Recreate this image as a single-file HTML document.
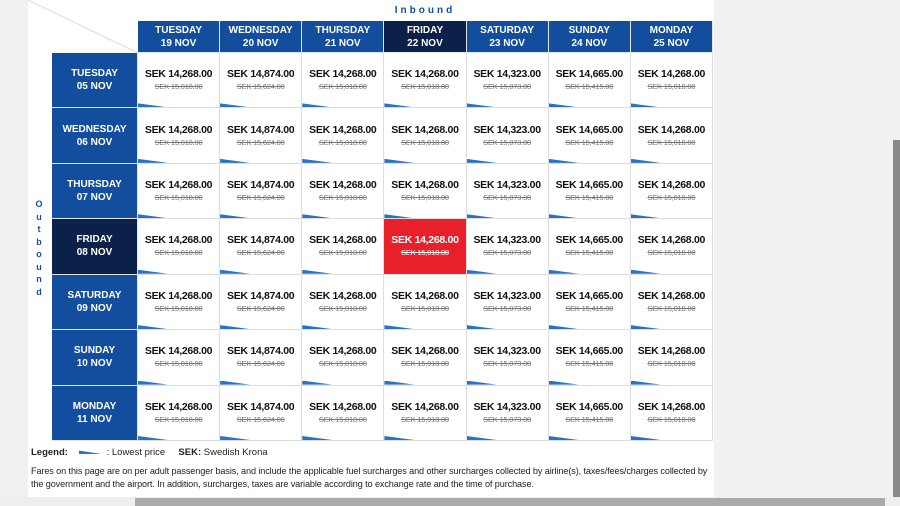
<!DOCTYPE html>
<html><head><meta charset="utf-8"><style>
*{margin:0;padding:0;box-sizing:border-box}
body{width:900px;height:506px;background:#f1f1f1;font-family:"Liberation Sans",Arial,sans-serif;position:relative;overflow:hidden}
.panel{position:absolute;left:28px;top:0;width:686px;height:497px;background:#fff}
.c{position:absolute;text-align:center}
.h{background:#134e9e;color:#fff;font-weight:bold;font-size:10px;line-height:13px;display:flex;align-items:center;justify-content:center;flex-direction:column;border-right:1px solid #dfe6ef;border-bottom:1px solid #dfe6ef}
.dk{background:#0b2149}
.cell{background:#fff;border-right:1px solid #ddd;border-bottom:1px solid #ddd;display:flex;flex-direction:column;align-items:center;justify-content:center}
.p{font-size:10.5px;font-weight:bold;color:#111;line-height:14px;letter-spacing:-0.3px}
.o{font-size:7.5px;color:#777;text-decoration:line-through;line-height:12px;letter-spacing:-0.2px}
.w{position:absolute;left:0;bottom:0;width:30px;height:4px;background:#2a72c6;clip-path:polygon(0 0,100% 100%,0 100%)}
.red{background:#e8202a}
.red .p,.red .o{color:#fff}
</style></head><body>
<div class="panel"></div>
<svg style="position:absolute;left:0;top:0" width="140" height="60"><line x1="28" y1="0" x2="138" y2="53" stroke="#ddd" stroke-width="1"/></svg>
<div class="c" style="left:384px;top:5px;width:82px;font-size:10px;font-weight:bold;color:#134e9e;letter-spacing:3px">Inbound</div>
<div class="c" style="left:32px;top:198px;width:14px;font-size:9px;font-weight:bold;color:#134e9e;line-height:12.5px">O<br>u<br>t<br>b<br>o<br>u<br>n<br>d</div>
<div id="g"></div>
<div style="position:absolute;left:31px;top:447px;font-size:9.5px;color:#222"><b>Legend:</b> <span style="display:inline-block;width:26px;height:4px;background:#2a72c6;clip-path:polygon(0 0,100% 100%,0 100%);vertical-align:middle;margin:0 2px 0 8px"></span>: Lowest price &nbsp;&nbsp;&nbsp; <b>SEK:</b> Swedish Krona</div>
<div style="position:absolute;left:31px;top:465px;width:690px;font-size:9.1px;color:#222;line-height:13px;letter-spacing:-0.1px">Fares on this page are on per adult passenger basis, and include the applicable fuel surcharges and other surcharges collected by airline(s), taxes/fees/charges collected by the government and the airport. In addition, surcharges, taxes are variable according to exchange rate and the time of purchase.</div>
<div style="position:absolute;left:893px;top:0;width:7px;height:497px;background:#f1f1f1"></div>
<div style="position:absolute;left:893px;top:140px;width:7px;height:357px;background:#888"></div>
<div style="position:absolute;left:0;top:497px;width:900px;height:9px;background:#eee"></div>
<div style="position:absolute;left:135px;top:498px;width:750px;height:8px;background:#aaa"></div>
<script>
var cols=[["TUESDAY","19 NOV"],["WEDNESDAY","20 NOV"],["THURSDAY","21 NOV"],["FRIDAY","22 NOV"],["SATURDAY","23 NOV"],["SUNDAY","24 NOV"],["MONDAY","25 NOV"]];
var rows=[["TUESDAY","05 NOV"],["WEDNESDAY","06 NOV"],["THURSDAY","07 NOV"],["FRIDAY","08 NOV"],["SATURDAY","09 NOV"],["SUNDAY","10 NOV"],["MONDAY","11 NOV"]];
var pr=[["14,268.00","15,018.00"],["14,874.00","15,624.00"],["14,268.00","15,018.00"],["14,268.00","15,018.00"],["14,323.00","15,073.00"],["14,665.00","15,415.00"],["14,268.00","15,018.00"]];
var h="",x0=138,cw=82.14,y0=53,rh=55.43;
cols.forEach(function(c,i){h+='<div class="c h'+(i==3?' dk':'')+'" style="left:'+(x0+i*cw)+'px;top:21px;width:'+cw+'px;height:32px">'+c[0]+'<br>'+c[1]+'</div>';});
rows.forEach(function(r,j){
 h+='<div class="c h'+(j==3?' dk':'')+'" style="left:52px;top:'+(y0+j*rh)+'px;width:86px;height:'+rh+'px">'+r[0]+'<br>'+r[1]+'</div>';
 pr.forEach(function(p,i){var red=(i==3&&j==3);
  h+='<div class="c cell'+(red?' red':'')+'" style="left:'+(x0+i*cw)+'px;top:'+(y0+j*rh)+'px;width:'+cw+'px;height:'+rh+'px"><div class="p">SEK '+p[0]+'</div><div class="o">SEK '+p[1]+'</div>'+(red?'':'<div class="w"></div>')+'</div>';});
});
document.getElementById("g").innerHTML=h;
</script>
</body></html>
